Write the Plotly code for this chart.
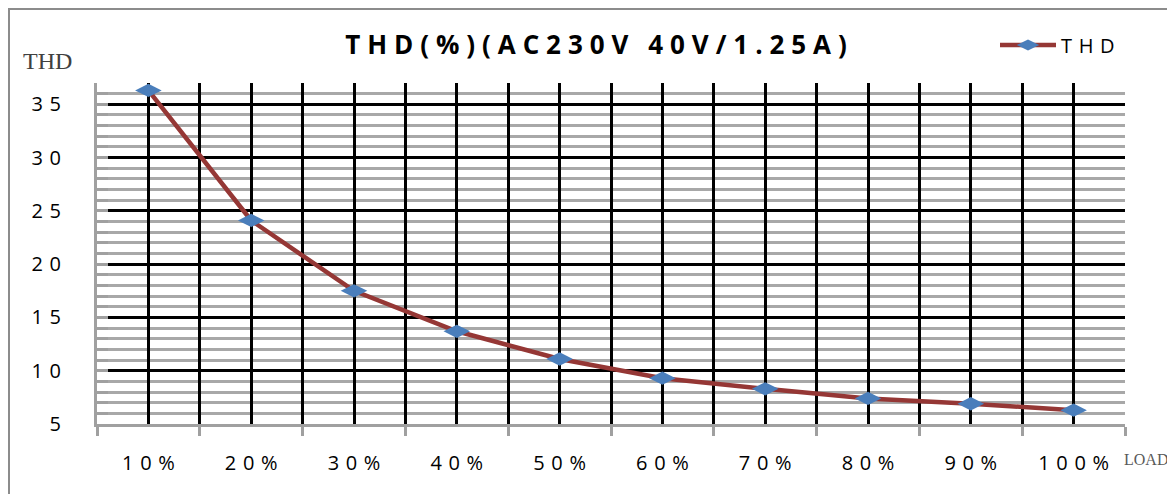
import plotly.graph_objects as go

categories = ["10%", "20%", "30%", "40%", "50%", "60%", "70%", "80%", "90%", "100%"]
thd_values = [36.3, 24.1, 17.5, 13.7, 11.1, 9.3, 8.3, 7.4, 6.9, 6.3]
y_major = [5, 10, 15, 20, 25, 30, 35]
y_min, y_max = 5, 37

SP = "\u2009\u2009"


def spaced(s, sep=SP):
    return sep.join(list(s))


n = len(categories)
x_pos = list(range(1, n + 1))
boundaries = [i + 0.5 for i in range(0, n + 1)]
half_steps = sorted(x_pos + boundaries)
y_all = list(range(y_min, y_max + 1))

# page body has an 8px margin: figure pixel = reference pixel - 8
OFF = 8
PL, PT, PW, PH = 97 - OFF, 83 - OFF, 1028, 341
W, H = 1175 - OFF, 494 - OFF


def px(xr):
    return (xr - 97) / PW


def py(yr):
    return (424 - yr) / PH


fig = go.Figure()
fig.add_trace(go.Scatter(
    x=x_pos, y=thd_values, mode="lines+markers", name=spaced("THD"),
    line=dict(color="#953735", width=4.5),
    marker=dict(symbol="diamond-wide", size=19, color="#4A7EBB"),
    xaxis="x", yaxis="y",
))
# helper (invisible) trace so that the overlay grid axes are drawn
fig.add_trace(go.Scatter(
    x=x_pos, y=thd_values, mode="lines", line=dict(width=0, color="rgba(0,0,0,0)"),
    showlegend=False, hoverinfo="skip", xaxis="x2", yaxis="y2",
))

ts = "\u2009\u200a"
title_txt = ts.join(list("THD(%)(AC230V")) + ts + "\u2002" + ts.join(list("40V/1.25A)"))

fig.update_layout(
    width=W, height=H,
    margin=dict(l=PL, r=W - PL - PW, t=PT, b=H - PT - PH),
    paper_bgcolor="white", plot_bgcolor="white",
    font=dict(family="Open Sans", color="#000000", size=20),
    title=dict(text=title_txt, x=px(596), xref="paper", xanchor="center",
               y=1 - (45 - OFF) / H, yref="container", yanchor="middle",
               font=dict(family="Open Sans", size=26, weight="bold", color="#000000")),
    showlegend=True,
    legend=dict(x=px(995), y=py(45), xanchor="left", yanchor="middle",
                itemwidth=56, bgcolor="rgba(0,0,0,0)", borderwidth=0,
                font=dict(family="Open Sans", size=20, color="#000000")),
    xaxis=dict(
        range=[0.5, n + 0.5], tickmode="array", tickvals=x_pos,
        ticktext=[spaced(c) for c in categories],
        showgrid=False, ticks="", showline=True, linecolor="#A0A0A0", linewidth=3,
        ticklabelstandoff=19,
        minor=dict(tickmode="array", tickvals=boundaries, showgrid=False,
                   ticks="outside", ticklen=9, tickcolor="#A0A0A0", tickwidth=2.5),
        zeroline=False,
    ),
    xaxis2=dict(
        range=[0.5, n + 0.5], overlaying="x", anchor="y2", side="bottom",
        tickmode="array", tickvals=half_steps, showticklabels=False, ticks="",
        showgrid=True, gridcolor="#000000", gridwidth=2.5, showline=False, zeroline=False,
    ),
    yaxis=dict(
        range=[y_min, y_max], tickmode="array", tickvals=y_all,
        ticktext=[spaced(str(v)) if v in y_major else "" for v in y_all],
        showgrid=True, gridcolor="#A8A8A8", gridwidth=2.5,
        ticks="inside", ticklen=11, tickcolor="#A0A0A0", tickwidth=2.5,
        showline=True, linecolor="#A0A0A0", linewidth=3,
        ticklabelstandoff=29, zeroline=False,
    ),
    yaxis2=dict(
        range=[y_min, y_max], overlaying="y", anchor="x2", side="left",
        tickmode="array", tickvals=y_major, showticklabels=False, ticks="",
        showgrid=True, gridcolor="#000000", gridwidth=2.5, showline=False, zeroline=False,
    ),
    shapes=[dict(type="rect", xref="paper", yref="paper",
                 x0=px(9), x1=px(1169), y0=py(510), y1=py(9),
                 line=dict(color="#8C8C8C", width=2), fillcolor="rgba(0,0,0,0)", layer="above")],
    annotations=[
        dict(text="THD", xref="paper", yref="paper", x=px(47), y=py(61),
             showarrow=False, xanchor="center", yanchor="middle",
             font=dict(family="Liberation Serif", size=24, color="#404040")),
        dict(text="LOAD", xref="paper", yref="paper", x=px(1146), y=py(460),
             showarrow=False, xanchor="center", yanchor="middle",
             font=dict(family="Liberation Serif", size=16, color="#595959")),
    ],
)

fig.write_html("out.html")
